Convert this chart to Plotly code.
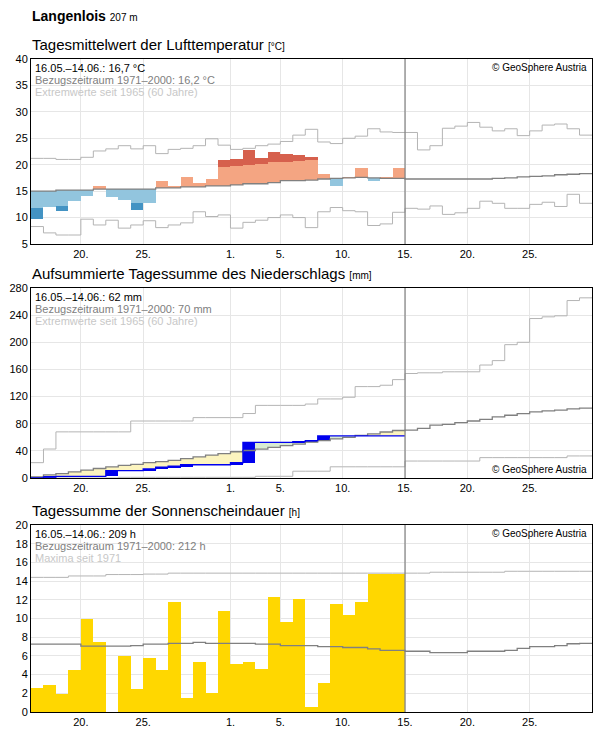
import plotly.graph_objects as go

# ---------- data ----------
tick_days = [4, 9, 16, 20, 25, 30, 35, 40]
tick_labels = ["20.", "25.", "1.", "5.", "10.", "15.", "20.", "25."]

temp_obs = [9.7, 12.0, 11.2, 13.1, 14.1, 16.0, 13.9, 13.3, 11.4, 12.8,
            16.9, 15.9, 17.7, 16.5, 17.3, 20.8, 21.0, 22.8, 21.3, 22.4,
            22.0, 21.8, 21.5, 18.2, 16.0, 17.6, 19.4, 16.9, 17.7, 19.4]
temp_mean = [15.0, 15.0, 15.2, 15.2, 15.2, 15.4, 15.4, 15.4, 15.4, 15.4,
             15.6, 15.6, 15.8, 15.8, 16.0, 16.0, 16.2, 16.4, 16.4, 16.6,
             17.0, 17.0, 17.1, 17.3, 17.4, 17.5, 17.6, 17.5, 17.4, 17.4,
             17.3, 17.3, 17.3, 17.3, 17.3, 17.3, 17.3, 17.4, 17.5, 17.7,
             17.8, 17.9, 18.1, 18.2, 18.3]
temp_upper = [18.4, 18.4, 18.6, 18.6, 18.7, 18.8, 18.8, 18.8, 18.8, 18.9,
              19.0, 19.1, 19.2, 19.3, 19.4, 19.6, 19.8, 20.0, 20.1, 20.5,
              20.5, 20.7, 20.85, 20.9, 21.0, 21.0, 21.0, 20.9, 20.9, 20.9]
temp_lower = [11.8, 11.9, 12.2, 12.2, 12.3, 12.5, 12.6, 12.6, 12.7, 12.7,
              12.8, 12.9, 13.0, 13.1, 13.2, 13.3, 13.4, 13.5, 13.6, 13.7,
              13.9, 14.0, 14.0, 14.1, 14.2, 14.2, 14.2, 14.2, 14.2, 14.2]
temp_max = [21.2, 21.2, 21.0, 21.0, 21.4, 22.6, 23.0, 23.6, 23.0, 23.6,
            22.1, 22.9, 23.1, 23.6, 24.9, 23.7, 22.9, 23.1, 23.6, 23.9,
            24.4, 25.6, 26.7, 24.3, 24.0, 25.0, 25.4, 26.8, 26.2, 26.1,
            26.1, 22.8, 23.6, 26.9, 27.3, 28.0, 27.1, 26.4, 26.8, 25.5,
            26.4, 27.5, 27.7, 26.8, 25.6]
temp_min = [8.3, 7.1, 6.7, 6.7, 9.7, 8.6, 9.5, 8.0, 8.6, 9.4,
            8.1, 8.6, 9.0, 11.1, 10.2, 10.5, 8.0, 9.1, 9.5, 10.0,
            10.5, 10.0, 8.1, 11.1, 11.9, 11.3, 11.1, 8.5, 8.8, 11.0,
            11.75, 11.6, 12.2, 10.6, 10.9, 11.75, 13.1, 12.7, 11.75, 11.75,
            12.5, 12.9, 12.1, 14.4, 12.7]

prec_obs = [0, 1.5, 2.5, 2.5, 2.5, 2.5, 11, 11, 11, 13.5,
            16, 17.5, 19.5, 19.5, 19.5, 19.5, 22.5, 52.5, 52.5, 52.5,
            52.5, 53.5, 55, 62, 62, 62, 62, 62, 62, 62]
prec_mean = [1.5, 4.5, 6.5, 9, 11.5, 14, 16.5, 18.6, 20, 22.6,
             24, 26, 28.6, 31, 33.7, 36, 38.7, 40.5, 42.7, 45,
             47.7, 50, 52.8, 55, 57.8, 60, 62.8, 65, 67.8, 70,
             70.5, 73, 78, 79, 81.5, 84, 86.5, 90, 92.5, 95,
             97.5, 99, 100, 102, 103]
prec_max = [22.6, 42.7, 68, 68, 68, 68, 68, 68, 84, 84,
            84, 84, 84, 89, 89, 89, 89, 95, 107, 107,
            107, 107, 109, 116.5, 116.5, 119, 134.7, 134.7, 136.7, 145,
            154, 155, 155, 156.5, 156.5, 156.5, 166.5, 173, 196.5, 200,
            235, 237.5, 239, 261.5, 265.5]
prec_min = [0, 0, 0, 0, 0, 0, 0, 1, 1, 1,
            1, 1, 1, 1, 1, 1, 1, 1, 2.5, 2.5,
            2.5, 10, 10, 10, 16.5, 16.5, 16.5, 16.5, 16.5, 16.5,
            25, 25, 25, 25, 25, 25, 30, 30, 30, 30,
            30, 30, 30, 32.5, 32.5]

sun_obs = [2.6, 2.9, 1.9, 4.45, 9.9, 7.45, 0, 6.0, 2.5, 5.75,
           4.45, 11.8, 1.5, 5.4, 2.05, 10.85, 5.1, 5.3, 4.55, 12.35,
           9.65, 12.05, 0.55, 3.05, 11.6, 10.4, 11.8, 14.75, 14.75, 14.75]
sun_mean = [7.25, 7.25, 7.25, 7.25, 7.05, 7.05, 7.05, 7.05, 7.1, 7.25,
            7.25, 7.35, 7.35, 7.45, 7.35, 7.35, 7.35, 7.35, 7.25, 7.25,
            7.1, 7.1, 7.1, 7.0, 7.0, 6.9, 6.9, 6.75, 6.6, 6.6,
            6.5, 6.5, 6.35, 6.35, 6.35, 6.5, 6.5, 6.5, 6.6, 6.8,
            7.0, 7.0, 7.1, 7.3, 7.35]
sun_max = [14.4, 14.4, 14.4, 14.55, 14.55, 14.55, 14.7, 14.7, 14.7, 14.75,
           14.75, 14.85, 14.85, 14.85, 14.85, 14.85, 14.85, 14.85, 14.85, 14.85,
           14.85, 14.85, 14.85, 14.85, 14.85, 14.85, 14.85, 14.85, 14.85, 14.85,
           14.85, 14.85, 14.95, 14.95, 14.95, 14.95, 14.95, 14.95, 15.05, 15.05,
           15.05, 15.05, 15.05, 15.05, 15.05]

# ---------- figure ----------
FONT = "Liberation Sans, Arial, sans-serif"
H = 729
def dom(top, bot):
    return [(H - bot) / H, (H - top) / H]

fig = go.Figure()

def step(vals, color, ax, width=1.0):
    xs = list(range(len(vals) + 1))
    ys = list(vals) + [vals[-1]]
    fig.add_trace(go.Scatter(x=xs, y=ys, mode="lines", line_shape="hv",
                             line=dict(color=color, width=width),
                             xaxis=ax[0], yaxis=ax[1], hoverinfo="skip"))

def bar(x, base, top, color, ax):
    fig.add_trace(go.Bar(x=x, y=[t - b for t, b in zip(top, base)], base=base,
                         width=1, marker=dict(color=color, line=dict(width=0)),
                         xaxis=ax[0], yaxis=ax[1], hoverinfo="skip"))

A1, A2, A3 = ("x", "y"), ("x2", "y2"), ("x3", "y3")
LG, DG = "#b4b4b4", "#808080"

# temperature anomaly bars
lx, lb, lt = [], [], []
dx, db, dt = [], [], []
ox, ob, ot = [], [], []
rx, rb, rt = [], [], []
for i, o in enumerate(temp_obs):
    m = temp_mean[i]
    if o > m:
        ox.append(i + 0.5); ob.append(m); ot.append(min(o, temp_upper[i]))
        if o > temp_upper[i]:
            rx.append(i + 0.5); rb.append(temp_upper[i]); rt.append(o)
    elif o < m:
        lx.append(i + 0.5); lb.append(max(o, temp_lower[i])); lt.append(m)
        if o < temp_lower[i]:
            dx.append(i + 0.5); db.append(o); dt.append(temp_lower[i])
bar(lx, lb, lt, "#92c5de", A1)
bar(dx, db, dt, "#4393c3", A1)
bar(ox, ob, ot, "#f4a582", A1)
bar(rx, rb, rt, "#d6604d", A1)
step(temp_max, LG, A1)
step(temp_min, LG, A1)
step(temp_mean, DG, A1, 1.3)

# precipitation
yx, yb, yt, gx, gb, gt = [], [], [], [], [], []
for i, o in enumerate(prec_obs):
    m = prec_mean[i]
    if o < m:
        yx.append(i + 0.5); yb.append(o); yt.append(m)
    else:
        gx.append(i + 0.5); gb.append(m); gt.append(o)
bar(yx, yb, yt, "#fcf4bf", A2)
bar(gx, gb, gt, "#d8ebd3", A2)
prev = [0] + prec_obs[:-1]
bar([i + 0.5 for i in range(len(prec_obs))], prev, prec_obs, "#0000ee", A2)
step(prec_max, LG, A2)
step(prec_min, LG, A2)
step(prec_mean, DG, A2, 1.3)
step(prec_obs, "#0000ee", A2, 1.3)

# sunshine
bar([i + 0.5 for i in range(len(sun_obs))], [0] * len(sun_obs), sun_obs, "#ffd700", A3)
step(sun_max, LG, A3)
step(sun_mean, DG, A3, 1.3)

axis_common = dict(showline=True, linecolor="black", linewidth=1, mirror=True,
                   gridcolor="#e6e6e6", ticks="", zeroline=False, automargin=False,
                   tickfont=dict(size=11, color="black", family=FONT), fixedrange=True)
xcommon = dict(axis_common, range=[0, 45], tickvals=tick_days, ticktext=tick_labels)
fig.update_layout(
    xaxis=dict(xcommon, anchor="y"),
    xaxis2=dict(xcommon, anchor="y2"),
    xaxis3=dict(xcommon, anchor="y3"),
    yaxis=dict(axis_common, domain=dom(59, 244), range=[5, 40], dtick=5, anchor="x"),
    yaxis2=dict(axis_common, domain=dom(288, 478), range=[0, 280], dtick=40, anchor="x2"),
    yaxis3=dict(axis_common, domain=dom(525, 712), range=[0, 20], dtick=2, anchor="x3"),
    barmode="overlay", bargap=0, showlegend=False,
    width=596, height=729, margin=dict(l=31, r=4, t=0, b=0, autoexpand=False),
    paper_bgcolor="white", plot_bgcolor="white",
    font=dict(family=FONT, color="black"),
)

shapes = []
for yref in ["y", "y2", "y3"]:
    shapes.append(dict(type="line", xref=yref.replace("y", "x"), yref=yref + " domain",
                       x0=30, x1=30, y0=0, y1=1, line=dict(color=DG, width=1.2)))
fig.update_layout(shapes=shapes)

ann = []
def txt(x, y, s, size=11, color="black", xanchor="left", yanchor="top"):
    ann.append(dict(xref="paper", yref="paper", x=x, y=y, text=s, showarrow=False,
                    xanchor=xanchor, yanchor=yanchor,
                    font=dict(size=size, color=color, family=FONT)))
def px(xp):
    return (xp - 31) / (596 - 35)
def py(yp):
    return (H - yp) / H

txt(px(30), py(6), "<b>Langenlois</b> <span style='font-size:10px'>207 m</span>", 14)
txt(px(30), py(34), "Tagesmittelwert der Lufttemperatur <span style='font-size:10px'>[°C]</span>", 15)
txt(px(30), py(263), "Aufsummierte Tagessumme des Niederschlags <span style='font-size:10px'>[mm]</span>", 15)
txt(px(30), py(500), "Tagessumme der Sonnenscheindauer <span style='font-size:10px'>[h]</span>", 15)

for top, lines in [(59, ["16.05.–14.06.: 16,7 °C", "Bezugszeitraum 1971–2000: 16,2 °C", "Extremwerte seit 1965 (60 Jahre)"]),
                   (288, ["16.05.–14.06.: 62 mm", "Bezugszeitraum 1971–2000: 70 mm", "Extremwerte seit 1965 (60 Jahre)"]),
                   (525, ["16.05.–14.06.: 209 h", "Bezugszeitraum 1971–2000: 212 h", "Maxima seit 1971"])]:
    for k, (s, c) in enumerate(zip(lines, ["black", "#808080", "#c8c8c8"])):
        txt(px(33), py(top + 1 + 12 * k), s, 11, c)

txt(px(589), py(60), "© GeoSphere Austria", 10, "black", "right")
txt(px(589), py(477), "© GeoSphere Austria", 10, "black", "right", "bottom")
txt(px(589), py(526), "© GeoSphere Austria", 10, "black", "right")
fig.update_layout(annotations=ann)

fig.write_html("out.html", config={"displayModeBar": False},
               post_script="document.body.style.margin='0';document.body.style.overflow='hidden';")
